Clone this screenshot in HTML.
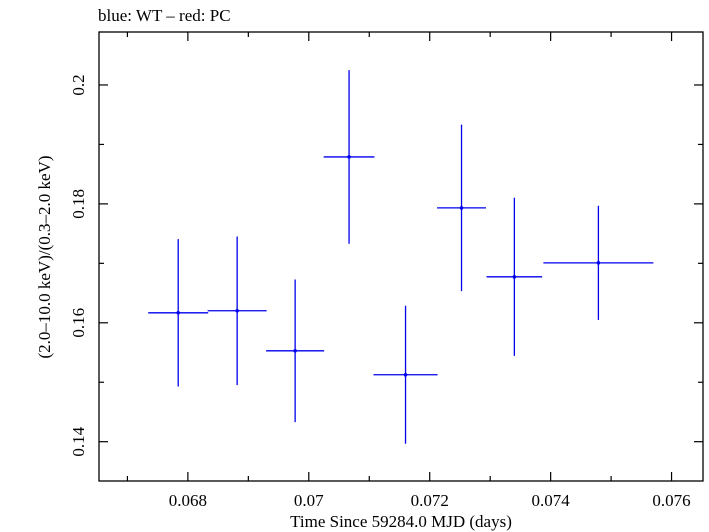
<!DOCTYPE html>
<html><head><meta charset="utf-8"><style>
body{margin:0;background:#fff}
svg{display:block;font-family:"Liberation Serif","DejaVu Serif",serif}
</style></head><body>
<svg id="c" width="709" height="532" viewBox="0 0 709 532">
<text x="98" y="21" font-size="17">blue: WT – red: PC</text>
<rect x="99" y="32" width="604" height="449" fill="none" stroke="#000" stroke-width="1.3"/>
<g id="axes"></g>
<g id="marks"></g>
<text x="401" y="527" font-size="17" text-anchor="middle">Time Since 59284.0 MJD (days)</text>
<text transform="translate(50,257) rotate(-90)" font-size="17" text-anchor="middle">(2.0–10.0 keV)/(0.3–2.0 keV)</text>
</svg>
<script>
const times=[0.06784,0.068815,0.069774,0.070666,0.07160,0.072526,0.07340,0.07479];
const timeErr=[0.000496,0.000488,0.00048,0.00042,0.00053,0.000405,0.00046,0.00091];
const ratios=[0.16168,0.16202,0.15529,0.1879,0.15126,0.17933,0.16773,0.17008];
const ratioErr=[0.0124,0.0125,0.0120,0.0146,0.0116,0.0140,0.0133,0.0096];
const xTicks=[0.068,0.07,0.072,0.074,0.076];
const xTickLabels=["0.068","0.07","0.072","0.074","0.076"];
const xMinor=[0.067,0.069,0.071,0.073,0.075];
const yTicks=[0.14,0.16,0.18,0.2];
const yTickLabels=["0.14","0.16","0.18","0.2"];
const yMinor=[0.15,0.17,0.19];
const X0=99,X1=703,Y0=32,Y1=481;
const xMin=0.06653,xMax=0.07652,yMin=0.13339,yMax=0.20891;
const sx=v=>X0+(v-xMin)/(xMax-xMin)*(X1-X0);
const sy=v=>Y1-(v-yMin)/(yMax-yMin)*(Y1-Y0);
const NS="http://www.w3.org/2000/svg";
const ax=document.getElementById('axes'),mk=document.getElementById('marks');
function ln(p,x1,y1,x2,y2,c,w){const l=document.createElementNS(NS,'line');l.setAttribute('x1',x1);l.setAttribute('y1',y1);l.setAttribute('x2',x2);l.setAttribute('y2',y2);l.setAttribute('stroke',c);l.setAttribute('stroke-width',w);p.appendChild(l);return l;}
function tx(p,x,y,s,anchor,rot){const t=document.createElementNS(NS,'text');t.setAttribute('x',x);t.setAttribute('y',y);t.setAttribute('font-size','17');t.setAttribute('text-anchor',anchor);if(rot)t.setAttribute('transform',rot);t.textContent=s;p.appendChild(t);return t;}
xTicks.forEach((v,i)=>{const x=sx(v);
let a=ln(ax,x,Y1,x,Y1-9,'#000',1.2);


let b=ln(ax,x,Y0,x,Y0+9,'#000',1.2);


let t=tx(ax,x,506,xTickLabels[i],'middle');

});
xMinor.forEach(v=>{const x=sx(v);
let a=ln(ax,x,Y1,x,Y1-5,'#000',1.2);


let b=ln(ax,x,Y0,x,Y0+5,'#000',1.2);

});
yTicks.forEach((v,i)=>{const y=sy(v);
let a=ln(ax,X0,y,X0+9,y,'#000',1.2);


let b=ln(ax,X1,y,X1-9,y,'#000',1.2);


let t=tx(ax,0,0,yTickLabels[i],'middle','translate(84,'+y+') rotate(-90)');

});
yMinor.forEach(v=>{const y=sy(v);
let a=ln(ax,X0,y,X0+5,y,'#000',1.2);


let b=ln(ax,X1,y,X1-5,y,'#000',1.2);

});
times.forEach((t,i)=>{const x=sx(t),y=sy(ratios[i]);
let h=ln(mk,sx(t-timeErr[i]),y,sx(t+timeErr[i]),y,'#0000ee',1.3);


let v=ln(mk,x,sy(ratios[i]-ratioErr[i]),x,sy(ratios[i]+ratioErr[i]),'#0000ee',1.3);


const c=document.createElementNS(NS,'circle');c.setAttribute('cx',x);c.setAttribute('cy',y);c.setAttribute('r',1.8);c.setAttribute('fill','#0000ee');


mk.appendChild(c);});
</script>
</body></html>
